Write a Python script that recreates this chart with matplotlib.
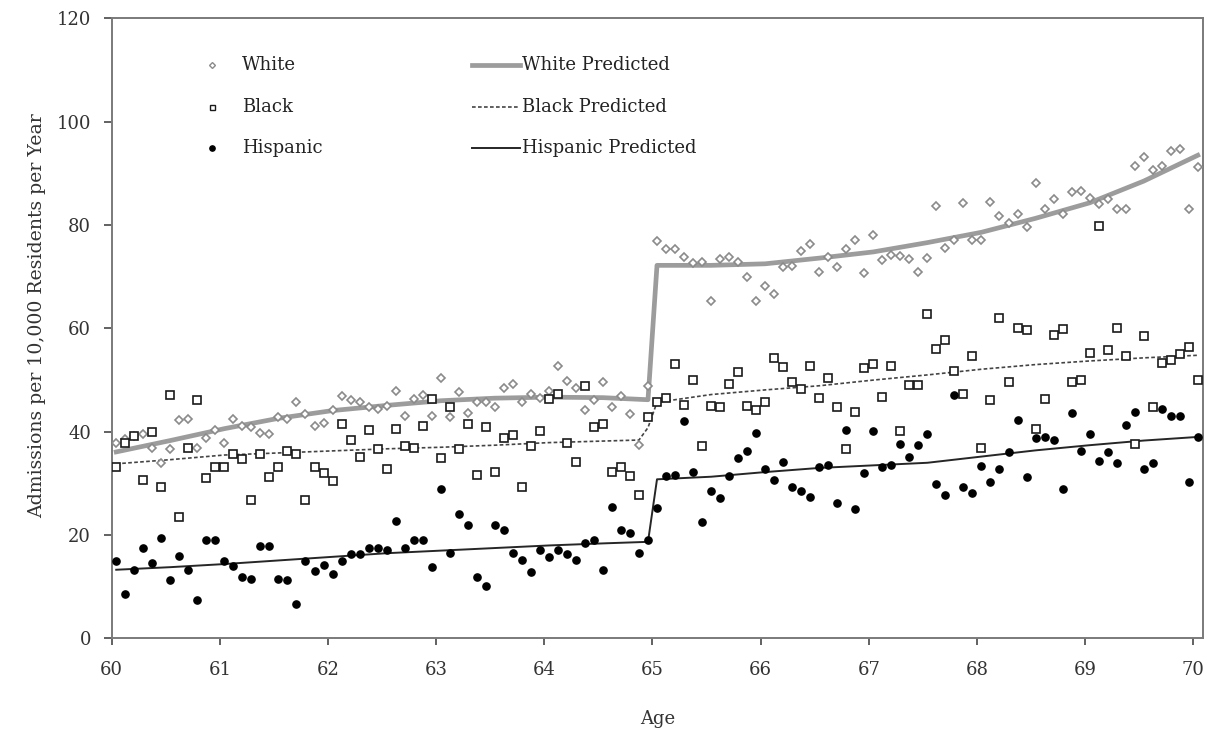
import matplotlib
matplotlib.use("Agg")
import matplotlib.pyplot as plt
import numpy as np

plt.rcParams['font.family'] = ['DejaVu Serif']

# ---- data (monthly observations, age 60 to 70) ----
months = list(range(121))

white = [37.9, 38.6, 39.1, 39.5, 36.9, 33.9, 36.6, 42.3, 42.5, 36.9, 38.8, 40.4,
         37.9, 42.5, 41.2, 40.9, 39.8, 39.5, 42.8, 42.5, 45.8, 43.4, 41.2, 41.7,
         44.2, 46.9, 46.1, 45.8, 44.7, 44.5, 45.0, 47.9, 43.1, 46.3, 47.2, 43.1,
         50.4, 42.8, 47.7, 43.7, 45.8, 45.8, 44.7, 48.5, 49.3, 45.8, 47.4, 46.6,
         47.9, 52.8, 49.9, 48.5, 44.2, 46.1, 49.6, 44.7, 46.9, 43.4, 37.4, 48.8,
         77.0, 75.3, 75.3, 73.9, 72.6, 72.9, 65.3, 73.4, 73.9, 72.9, 69.9, 65.3,
         68.3, 66.6, 71.8, 72.1, 75.0, 76.4, 71.0, 73.9, 71.8, 75.3, 77.2, 70.7,
         78.1, 73.2, 74.3, 74.0, 73.4, 71.0, 73.7, 83.7, 75.5, 77.2, 84.2, 77.2,
         77.2, 84.5, 81.8, 80.3, 82.1, 79.6, 88.1, 83.2, 85.0, 82.1, 86.4, 86.6,
         85.2, 84.0, 85.0, 83.2, 83.2, 91.5, 93.2, 90.7, 91.5, 94.3, 94.8, 83.2,
         91.3]

black = [33.2, 37.9, 39.2, 30.6, 39.9, 29.3, 47.2, 23.6, 36.8, 46.1, 31.0, 33.1,
         33.1, 35.7, 34.7, 26.8, 35.7, 31.2, 33.1, 36.3, 35.7, 26.8, 33.1, 32.0,
         30.4, 41.5, 38.5, 35.2, 40.4, 36.6, 32.8, 40.6, 37.2, 36.9, 41.2, 46.4,
         35.0, 44.7, 36.6, 41.5, 31.7, 40.9, 32.3, 38.8, 39.3, 29.3, 37.2, 40.1,
         46.3, 47.4, 37.9, 34.1, 48.8, 40.9, 41.5, 32.3, 33.1, 31.5, 27.7, 42.8,
         45.8, 46.6, 53.1, 45.2, 50.1, 37.2, 45.0, 44.7, 49.3, 51.5, 45.0, 44.2,
         45.8, 54.2, 52.6, 49.6, 48.3, 52.8, 46.6, 50.4, 44.7, 36.6, 43.9, 52.3,
         53.1, 46.8, 52.8, 40.1, 49.0, 49.0, 62.8, 56.1, 57.8, 51.7, 47.4, 54.7,
         36.9, 46.1, 62.1, 49.6, 60.1, 59.6, 40.6, 46.3, 58.8, 59.9, 49.6, 50.1,
         55.3, 79.9, 55.8, 60.1, 54.7, 37.7, 58.5, 44.7, 53.4, 53.9, 55.0, 56.4,
         50.1]

hispanic = [15.0, 8.6, 13.3, 17.6, 14.7, 19.5, 11.4, 15.9, 13.3, 7.4, 19.0, 19.0,
            15.0, 14.1, 11.9, 11.6, 17.9, 17.9, 11.6, 11.4, 6.7, 15.0, 13.0, 14.3,
            12.4, 15.0, 16.3, 16.3, 17.6, 17.6, 17.2, 22.8, 17.6, 19.0, 19.0, 13.8,
            29.0, 16.6, 24.1, 22.0, 11.9, 10.1, 22.0, 20.9, 16.6, 15.2, 12.8, 17.1,
            15.7, 17.1, 16.3, 15.2, 18.4, 19.0, 13.3, 25.5, 20.9, 20.4, 16.5, 19.0,
            25.2, 31.5, 31.7, 42.0, 32.3, 22.5, 28.5, 27.1, 31.5, 35.0, 36.3, 39.8,
            32.8, 30.6, 34.1, 29.3, 28.5, 27.4, 33.1, 33.6, 26.3, 40.4, 25.0, 32.0,
            40.1, 33.1, 33.6, 37.7, 35.2, 37.4, 39.5, 29.8, 27.7, 47.2, 29.3, 28.2,
            33.3, 30.3, 32.8, 36.1, 42.2, 31.2, 38.8, 39.0, 38.5, 29.0, 43.6, 36.3,
            39.5, 34.4, 36.1, 33.9, 41.4, 43.9, 32.8, 33.9, 44.5, 43.1, 43.1, 30.3,
            39.0]

# predicted lines (read at selected months)
white_pred_m = [0, 6, 12, 18, 24, 30, 36, 42, 48, 54, 59, 60, 66, 72, 78, 84, 90, 96, 102, 108, 114, 120]
white_pred = [36.1, 38.3, 40.6, 42.6, 44.1, 45.1, 46.0, 46.5, 46.7, 46.6, 46.2,
              72.2, 72.2, 72.5, 73.6, 74.8, 76.6, 78.6, 81.3, 84.3, 88.5, 93.5]

black_pred_m = [0, 6, 12, 18, 24, 30, 36, 42, 48, 54, 58, 59, 60, 66, 72, 78, 84, 90, 96, 102, 108, 114, 120]
black_pred = [33.8, 34.6, 35.5, 35.9, 36.3, 36.7, 37.0, 37.4, 37.9, 38.2, 38.4, 40.8,
              45.7, 47.2, 48.1, 48.9, 50.0, 51.0, 52.1, 53.0, 53.7, 54.3, 54.8]

hisp_pred_m = [0, 6, 12, 18, 24, 30, 36, 42, 48, 54, 59, 60, 66, 72, 78, 84, 90, 96, 102, 108, 114, 120]
hisp_pred = [13.3, 13.8, 14.4, 15.1, 15.8, 16.5, 17.0, 17.5, 18.0, 18.4, 18.7,
             30.8, 31.3, 32.2, 33.0, 33.5, 34.0, 35.2, 36.4, 37.4, 38.3, 39.0]

x_ticks = [60, 61, 62, 63, 64, 65, 66, 67, 68, 69, 70]
y_ticks = [0, 20, 40, 60, 80, 100, 120]


def age(m):
    return 60 + (np.asarray(m, dtype=float) + 0.5) / 12.0


FS = 13
fig = plt.figure(figsize=(12.17, 7.36), dpi=100)
ax = fig.add_axes([0.0918, 0.1325, 0.8967, 0.8426])

# predicted lines
ax.plot(age(white_pred_m), white_pred, color='#9c9c9c', lw=3.4, solid_joinstyle='round', zorder=2)
ax.plot(age(black_pred_m), black_pred, color='#444444', lw=1.2, ls=(0, (2.2, 1.4)), zorder=2)
ax.plot(age(hisp_pred_m), hisp_pred, color='#262626', lw=1.4, zorder=2)

# observed points
ax.plot(age(months), white, ls='none', marker='D', ms=4.2, mfc='white', mec='#8a8a8a', mew=1.2, zorder=3)
ax.plot(age(months), black, ls='none', marker='s', ms=5.4, mfc='white', mec='#1a1a1a', mew=1.2, zorder=3)
ax.plot(age(months), hispanic, ls='none', marker='o', ms=5.2, mfc='black', mec='black', zorder=3)

ax.set_xlim(60, 70.09)
ax.set_ylim(0, 120)
ax.set_xticks(x_ticks)
ax.set_yticks(y_ticks)
ax.set_xticklabels([str(t) for t in x_ticks])
ax.set_yticklabels([str(t) for t in y_ticks])

for s in ax.spines.values():
    s.set_color('#7a7a7a')
    s.set_linewidth(1.4)
ax.tick_params(axis='both', direction='out', colors='#555555', width=1.3, labelcolor='#333333', labelsize=FS)
ax.tick_params(axis='y', length=6, pad=9)
ax.tick_params(axis='x', length=5, pad=11)

ax.set_xlabel('Age', fontsize=FS, color='#333333')
ax.set_ylabel('Admissions per 10,000 Residents per Year', fontsize=13.6, color='#333333')
ax.xaxis.set_label_coords(0.5, -0.115)
ax.yaxis.set_label_coords(-0.060, 0.52)

# legend (drawn manually)
rows = [0.9247, 0.857, 0.791]
mx, tx, lx0, lx1, tx2 = 0.0919, 0.1194, 0.330, 0.374, 0.376
tr = ax.transAxes
ax.plot([mx], [rows[0]], transform=tr, marker='D', ms=3.0, mfc='white', mec='#8a8a8a', mew=1.0, ls='none', clip_on=False)
ax.plot([mx], [rows[1]], transform=tr, marker='s', ms=3.6, mfc='white', mec='#1a1a1a', mew=1.0, ls='none', clip_on=False)
ax.plot([mx], [rows[2]], transform=tr, marker='o', ms=3.8, mfc='black', mec='black', ls='none', clip_on=False)
ax.plot([lx0, lx1], [rows[0]] * 2, transform=tr, color='#9c9c9c', lw=3.4)
ax.plot([lx0, lx1], [rows[1]] * 2, transform=tr, color='#444444', lw=1.2, ls=(0, (2.2, 1.4)))
ax.plot([lx0, lx1], [rows[2]] * 2, transform=tr, color='#262626', lw=1.4)
labels_left = ['White', 'Black', 'Hispanic']
labels_right = ['White Predicted', 'Black Predicted', 'Hispanic Predicted']
for r, a, b in zip(rows, labels_left, labels_right):
    ax.text(tx, r, a, transform=tr, fontsize=FS, color='#222222', va='center', ha='left')
    ax.text(tx2, r, b, transform=tr, fontsize=FS, color='#222222', va='center', ha='left')

fig.savefig('out.png', dpi=100)
